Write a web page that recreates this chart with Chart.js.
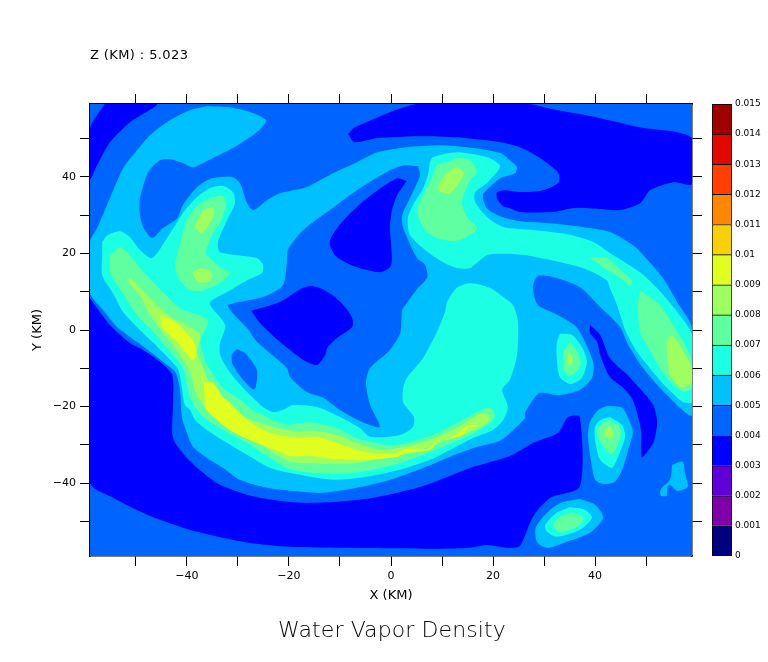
<!DOCTYPE html>
<html>
<head>
<meta charset="utf-8">
<title>Water Vapor Density</title>
<script src="https://cdn.jsdelivr.net/npm/chart.js@4/dist/chart.umd.min.js"></script>
<style>
  body { margin: 0; background: #fff; }
  #wrap { position: relative; width: 768px; height: 662px; overflow: hidden; }
  canvas { position: absolute; top: 0; }
  .label { position: absolute; color: #000; font-family: "DejaVu Sans", sans-serif; white-space: nowrap; }
  #zLabel { left: 90px; top: 47px; font-size: 13px; letter-spacing: 0.4px; }
  #mainTitle { left: 278px; top: 617px; font-size: 22px; font-weight: 200; letter-spacing: 0.1px; }
</style>
</head>
<body>
<div id="wrap">
  <canvas id="contourChart" width="768" height="662" style="left:0"></canvas>
  <canvas id="colourBar" width="56" height="662" style="left:712px"></canvas>
  <div class="label" id="zLabel">Z (KM) : 5.023</div>
  <div class="label" id="mainTitle">Water Vapor Density</div>
</div>
<script>
const levelColours = ['#000080', '#7f00a8', '#6000d8', '#0000ff', '#0064ff', '#00c0ff', '#1cffe2',
  '#60ffa0', '#a0ff60', '#e0ff20', '#f8d008', '#ff8800', '#ff4000', '#e00800', '#a00000'];
const levelLabels = ['0', '0.001', '0.002', '0.003', '0.004', '0.005', '0.006', '0.007',
  '0.008', '0.009', '0.01', '0.011', '0.012', '0.013', '0.014', '0.015'];
const levelEdges = [0, 0.001, 0.002, 0.003, 0.004, 0.005, 0.006, 0.007, 0.008, 0.009, 0.01, 0.011, 0.012, 0.013, 0.014, 0.015];
const xTicks = [-50, -40, -30, -20, -10, 0, 10, 20, 30, 40, 50];
const yTicks = [-50, -40, -30, -20, -10, 0, 10, 20, 30, 40, 50];
const labelledTicks = [-40, -20, 0, 20, 40];

// contours, [x km, y km]
const domain = [[-59,-59],[59,-59],[59,59],[-59,59]];

const dryTopLeft = [[-56.1,59],[-45.9,59],[-51.2,54.2],[-55.1,49],[-57.6,43],[-59,39.4],[-59,52.7]];
const dryTopBand = [[-8.4,51.1],[-7.1,52.9],[5.1,59],[26.9,59],[31.8,57.6],[41,55.3],[48.8,52.9],[59,50.1],
  [59,38.1],[55.3,38.6],[50.8,36.5],[48.8,33.1],[44.9,31.3],[41,31.6],[35.5,31.8],[31.8,30.8],[25.3,30.8],
  [23.3,31.8],[22,32.3],[20.8,34.2],[20.8,36],[22.3,36.5],[25.3,36],[29.8,36.5],[32.9,38.6],[32.7,41.2],
  [29.2,44.9],[25.3,47.7],[21.4,49],[12.9,50.3],[5.1,50.6],[-2.7,50.1],[-7.1,49]];
const dryLower = [[-59,8.3],[-55.1,1.3],[-51.2,-3.4],[-48.6,-5.2],[-45.3,-8.3],[-42.9,-11.7],[-42.7,-18.3],
  [-42.9,-26.9],[-42.3,-29.5],[-40,-33.4],[-36.8,-37.3],[-33.5,-40.4],[-28.2,-43],[-24.3,-44.1],[-17.8,-45.1],
  [-11.4,-44.9],[-3.5,-43.8],[6.3,-40.7],[15.5,-36],[23.3,-32.9],[27.8,-29.5],[32.7,-26.9],[34.7,-22.7],
  [37,-22.7],[37,-40.9],[31.2,-43.8],[27.8,-48.8],[25.3,-56.3],[23.3,-56.9],[18.8,-56.1],[14.9,-56.9],
  [6.3,-57.1],[-19.8,-56.6],[-28.2,-55.5],[-38,-52.7],[-47.8,-48.2],[-54.5,-43.8],[-59,-39.9]];
const dryDiagonal = [[39,1.3],[41,-1.3],[42.9,-7.3],[46.3,-11.7],[49.4,-16.2],[51.4,-19.6],[52.1,-23],[52.1,-25.3],
  [51.4,-29.5],[49.2,-33.1],[49,-26.1],[47.4,-18.3],[45.5,-15.1],[42.9,-12.3],[41,-6.5],[40.4,-3.1],[39,-0.8]];

const swirl5 = [[-36.1,58.4],[-32.1,58.2],[-27.6,56.9],[-24.5,54.8],[-25.3,52.9],[-27,50.9],[-31,47.5],[-34.9,44.9],
  [-38.8,42.5],[-40.8,43.6],[-43.3,44.6],[-45.3,44.3],[-47.6,41.2],[-49.2,34.4],[-49.2,30],[-48.6,26.9],[-46.8,24],
  [-44.7,26.6],[-41.9,29.2],[-40.8,32.6],[-38,37.3],[-35.1,39.6],[-31,39.9],[-29.6,38.3],[-28.2,33.1],[-27,31.3],
  [-24.3,33.9],[-21.8,35.7],[-19.8,36.3],[-16.5,37.3],[-11.4,40.9],[-6.7,43.8],[-2.7,46.4],[3.1,47.7],[9.6,48.2],
  [16.1,47.5],[21.4,46.2],[23.3,44.3],[24.7,42.5],[24.3,40.9],[21.4,39.6],[19.4,37.3],[18,35.2],[18.8,31.8],
  [21.4,29.7],[25.3,28.4],[31.2,27.9],[37.6,26.9],[42.9,25.6],[47.4,22.2],[49.4,19.6],[53.3,13.6],[56.1,7.3],
  [59,0.5],[59,-22.2],[54.1,-17],[49.4,-9.9],[46.5,-3.9],[44.9,0.8],[41,6],[37,11.2],[32.5,13.6],[28.8,14.1],
  [27.8,11],[28.8,6.5],[32.7,3.9],[36.5,0.5],[39.6,-8.3],[39.4,-12.5],[37,-15.6],[33.1,-17],[29.2,-16.4],
  [27.8,-18.3],[26.3,-21.6],[26.3,-23],[23.3,-26.9],[21.4,-28.9],[16.9,-30.5],[11.6,-33.1],[6.3,-36],[-0.2,-39.1],
  [-6.7,-41.2],[-13.3,-42.5],[-17.8,-42.2],[-24.3,-41.2],[-29.6,-39.1],[-32.9,-36],[-36.1,-33.4],[-38.8,-30.5],
  [-40,-26.9],[-41,-22.7],[-41.4,-15.1],[-42.3,-11],[-44.7,-8.3],[-47.2,-5.7],[-49.8,-3.1],[-53.7,0.8],[-56.4,5.2],
  [-59,9.6],[-59,23],[-57.6,26.6],[-55.1,34.4],[-52.5,42.2],[-49.8,46.9],[-47.2,50.9],[-43.3,54.8],[-39.4,57.4]];
const spotA5 = [[42.5,-19.8],[45.3,-20.3],[46.5,-23],[47.4,-26.6],[46.5,-31.3],[45.3,-36.5],[43.9,-39.6],[41.6,-40.2],
  [40,-39.1],[39.4,-35.7],[38.6,-27.9],[39,-24],[40.6,-20.9]];
const spotB5 = [[37,-44.1],[40,-45.6],[41.6,-49],[39,-52.9],[34.5,-55.3],[30.6,-56.9],[28.6,-55.3],[28.4,-51.4],[31.2,-46.9],[33.7,-44.9]];
const spotC5 = [[55.1,-35.2],[57.2,-34.4],[57.6,-37.3],[58.2,-40.9],[56.1,-42],[54.7,-40.4],[54.1,-41.2],[54.1,-43.3],
  [52.9,-43.3],[52.9,-41.5],[54.7,-39.1]];

const hollowCentre = [[5.3,42.8],[5.7,40.4],[3.7,34.4],[2.2,30],[2.4,26.6],[5.1,18.8],[6.7,17],[7.1,13.8],[5.3,11],[3.1,7],
  [2.2,5.2],[1.8,-0.8],[-0.2,-5.2],[-4.1,-9.9],[-4.9,-13.8],[-4.1,-19.6],[-2.2,-25.3],[-5.7,-24],[-10,-20.9],
  [-13.3,-17.7],[-16.5,-16.2],[-19.8,-12.3],[-20.4,-9.9],[-26.3,-3.1],[-28.2,0.5],[-31,4.4],[-31.9,6.5],[-25.1,8.6],
  [-21.2,11.7],[-20.4,17.7],[-20.2,20.9],[-17.8,25.3],[-16.5,26.9],[-12,31.3],[-6.7,36.5],[-0.2,41.7],[2.7,43]];
const hollowSmall = [[-30.2,-5],[-28.6,-6],[-26.3,-10.4],[-26.5,-14.9],[-27,-15.6],[-29,-13],[-31,-9.1],[-31.2,-6.5]];
const dryCentreTop = [[3.1,38.9],[1.2,39.6],[-3.1,36],[-6.7,32.1],[-10,27.6],[-11.8,24],[-12,22.2],[-11,19.6],[-9,17.7],
  [-6.7,16.4],[-2.2,15.1],[-0.2,16.4],[0.2,18.8],[-0.2,26.6],[0.2,31.3],[1.2,35.2]];
const dryCentreLeft = [[-27.4,5],[-21.8,7.3],[-16.9,11.2],[-14.5,11.2],[-11.4,9.1],[-9,6],[-7.6,3.1],[-7.6,0.8],[-10.6,-2.1],
  [-12.5,-4.7],[-12.9,-6.5],[-14.5,-9.1],[-17.2,-7.8],[-21.8,-3.1],[-25.7,1.8]];

const band6 = [[-56.6,23],[-55.5,24.8],[-53.1,25.8],[-51.2,24.3],[-49.2,20.9],[-46.8,18.8],[-43.9,24],[-40.8,30.5],[-38,34.7],
  [-35.5,37],[-32.9,37.6],[-31,36],[-30.6,33.1],[-32.1,28.7],[-33.9,23],[-33.5,20.3],[-26.3,18.8],[-25.1,17],[-25.3,14.9],
  [-28.2,13],[-32.1,9.9],[-35.5,7],[-32.5,1.3],[-33.5,-3.4],[-33.5,-6.5],[-31.6,-11],[-28.2,-16.2],[-25.1,-20.1],
  [-23.1,-21.4],[-21.2,-20.9],[-19.2,-19.6],[-14.5,-20.1],[-10,-22.7],[-6.1,-25.6],[-4.1,-27.9],[1.8,-27.4],[4.3,-25.3],
  [4.5,-22.7],[2.4,-19],[2.4,-15.1],[3.1,-12.5],[6.3,-7.3],[9,-0.5],[10.6,4.7],[11,7.3],[12.9,11],[15.5,12.3],[19.4,11],
  [22,8.6],[23.9,6.5],[24.9,2.1],[24.7,-6.5],[23.3,-13],[21.8,-15.6],[22.9,-20.1],[22,-23.5],[20,-26.1],[16.1,-28.2],
  [11.6,-31.3],[7.6,-33.9],[1.8,-36.5],[-4.7,-38.3],[-11.4,-39.1],[-17.8,-37.8],[-23.7,-36],[-28.2,-32.6],[-32.1,-29.5],
  [-36.1,-26.1],[-38.4,-23.5],[-39.4,-20.9],[-40.4,-19.6],[-41,-15.1],[-41.7,-10.4],[-43.9,-7],[-46.8,-3.1],[-49.8,0.8],
  [-52.5,4.7],[-54.5,9.6],[-56.6,14.3],[-56.6,19.6]];
const swirl6 = [[7.6,43.8],[8.2,45.1],[12.9,46.4],[18.8,45.1],[21.4,42.8],[19,38.6],[16.5,36],[16.5,33.4],[18.8,29.5],[22,26.9],
  [27.8,26.1],[34.5,25],[39.6,23],[43.5,19.6],[48.8,15.1],[52.1,11],[56.1,4.7],[59,-1.3],[59,-18.8],[57.2,-18.8],[54.1,-15.1],
  [51.4,-11],[48.2,-5.7],[45.9,0],[44.3,6.5],[42.9,11],[42.3,13],[37.6,16.2],[31.2,18.3],[25.9,19.6],[19,19.6],[15.5,16.2],
  [12.9,16.2],[10.2,17.7],[6.7,20.9],[3.7,24.8],[3.3,29.2],[4.3,32.6],[6.3,37],[7.3,40.9]];
const spotD6 = [[33.1,-1],[35.5,-1.3],[37.4,-4.4],[38.4,-8.3],[37.4,-12.5],[35.1,-14.1],[33.1,-12.3],[32.5,-7.3],[32.5,-3.4]];
const spotA6 = [[42.9,-22.7],[45.3,-24.8],[45.9,-27.9],[44.5,-33.1],[43.3,-36],[41,-33.9],[40,-28.7],[40,-25.3],[41,-23.5]];
const spotB6 = [[35.1,-46.2],[38,-46.9],[39.4,-49],[37,-52.2],[32.5,-54],[30.6,-52.7],[30.2,-50.9],[32.5,-47.7]];

const band7 = [[-55.1,19.6],[-53.1,21.6],[-51.7,20.3],[-51.2,19.6],[-48.8,15.6],[-44.7,9.9],[-41.4,5.7],[-35.9,2.6],[-37.4,-3.1],
  [-36.8,-6.5],[-35.5,-10.4],[-32.9,-15.1],[-29,-18.8],[-27,-20.9],[-23.1,-23.5],[-20.4,-24.8],[-17.8,-24.3],[-15.9,-24],
  [-10.6,-25.6],[-6.7,-28.2],[-0.8,-30],[3.1,-29.5],[8.2,-27.4],[12.9,-24.3],[16.9,-21.4],[19.4,-20.3],[20.4,-22.2],[19.4,-24.3],
  [15.5,-27.4],[11,-30],[6.3,-32.6],[1.8,-34.7],[-4.7,-36.8],[-11.4,-37.6],[-19.8,-36.5],[-23.1,-33.9],[-28.2,-29.5],[-32.9,-26.1],
  [-36.8,-22.7],[-38.4,-20.1],[-39.4,-17.7],[-40.8,-9.9],[-43.3,-5.7],[-46.6,-0.5],[-49.8,3.9],[-52.7,9.9],[-55.1,15.1]];
const swirl7 = [[11,43.8],[12.9,44.9],[15.5,44.3],[16.9,41.2],[15.5,39.1],[13.9,33.4],[14.9,29.5],[16.9,26.6],[14.9,24.3],[12.2,23.2],
  [9,24],[6.7,26.1],[5.1,30.8],[6.3,35.2],[8.2,40.4],[9,43]];
const streak7 = [[39,18.8],[42.3,18.8],[45.5,15.1],[47.2,13],[47,11.5],[44.9,13.6],[41.6,16.4]];
const edge7 = [[48.8,10.4],[52.7,6.5],[55.3,1.3],[58,-4.7],[59,-8.3],[59,-15.1],[57.6,-16.2],[55.3,-14.3],[52.7,-9.9],[50.2,-3.9],[48.8,-0.5],[48.4,6.5]];
const arm7 = [[-35.1,34.7],[-33.1,34.9],[-32.3,33.4],[-33.1,29.2],[-35.1,24.8],[-36.3,20.3],[-36.1,19.6],[-33.5,16.4],[-31.6,14.9],
  [-33.5,12.3],[-36.8,10.4],[-39.4,10.4],[-41.7,13.6],[-42.3,17],[-41.7,20.9],[-40,28.7],[-37.8,32.6]];
const spotD7 = [[35.1,-3.1],[36.7,-6],[37.2,-9.1],[36.1,-11.2],[34.7,-12],[33.7,-9.6],[33.9,-5.7]];
const spotA7 = [[42.9,-23.5],[44.9,-25.3],[44.9,-28.2],[43.3,-32.6],[41,-29.2],[40.4,-26.1],[41.4,-24.3]];
const spotB7 = [[35.5,-47.7],[37.6,-48.8],[37,-50.9],[33.1,-52.9],[31.8,-50.9],[33.1,-48.8]];

const band8 = [[-51.2,13.8],[-47.2,8.3],[-43.7,3.9],[-39.4,0.8],[-37.4,-1.3],[-38,-5.7],[-36.8,-9.9],[-35.1,-15.1],[-31.6,-19.6],
  [-28.2,-23],[-22.3,-25.6],[-17.8,-26.6],[-16.5,-26.3],[-12,-26.9],[-6.7,-29.5],[-1.6,-31.3],[2.4,-30.5],[7.6,-28.7],[12.9,-25.6],
  [17.4,-21.9],[19.4,-22.2],[18.8,-24.3],[14.9,-26.9],[9,-29.7],[4.3,-32.1],[-0.2,-33.1],[-6.7,-34.7],[-13.3,-34.9],[-19.8,-34.4],
  [-21.8,-33.1],[-27,-28.7],[-32.9,-24.3],[-35.9,-21.6],[-37.4,-18.3],[-38,-17.7],[-39.4,-11],[-41.7,-5.7],[-43.9,-2.1],[-47.2,3.9],
  [-49.2,9.1],[-51.5,12.5]];
const swirl8 = [[11,41.2],[12.9,42.5],[14.3,40.9],[11.6,35.7],[9,36.8]];
const edge8 = [[55.1,-1.3],[56.6,-3.9],[59,-9.9],[59,-13.6],[57,-15.1],[54.7,-11.7],[54.1,-6.5],[54.1,-2.6]];
const armTop8 = [[-36.8,31.3],[-34.9,32.1],[-34.7,30],[-37,25.3],[-38.4,26.9]];
const armLow8 = [[-39,15.1],[-37,16.2],[-35.1,14.9],[-35.5,12.8],[-37.8,12.5]];
const spotD8 = [[34.9,-5.2],[35.5,-7],[35.5,-9.1],[34.7,-9.4],[34.7,-6.5]];
const spotA8 = [[42.9,-25],[43.7,-26.6],[43.3,-28.4],[42.1,-27.9],[41.7,-26.6]];

const coreUpper9 = [[-45.3,3.9],[-42.3,2.1],[-39.4,-1.8],[-38.4,-3.9],[-38.2,-7],[-39,-7.8],[-41.9,-3.1],[-44.7,0.5]];
const coreLower9 = [[-37,-11],[-36.8,-13.6],[-34.9,-13.8],[-32.9,-17.7],[-32.1,-18.3],[-28.2,-23.5],[-23.7,-26.9],[-17.8,-28.2],
  [-14.5,-27.9],[-11.4,-29.2],[-6.7,-31.3],[-2.7,-32.3],[1.2,-32.1],[2.7,-31],[7.1,-31],[9,-29.2],[7.6,-31.3],[2.4,-32.1],[1.4,-33.1],
  [-4.7,-33.9],[-11.4,-33.6],[-15.9,-32.9],[-19.8,-32.9],[-21.8,-31.8],[-26.3,-29.5],[-31.6,-26.1],[-36.1,-20.9],[-36.5,-18.3],[-36.7,-14.3]];
const coreTip9 = [[11,-28.9],[13.5,-26.6],[15.1,-25],[17.1,-25],[15.1,-25.6],[14.1,-27.4],[12.2,-28.2]];

// paint order: later ones cover earlier ones
const layers = [
  [4, domain],
  [3, dryTopLeft], [3, dryTopBand], [3, dryLower], [3, dryDiagonal],
  [5, swirl5], [5, spotA5], [5, spotB5], [5, spotC5],
  [4, hollowCentre], [4, hollowSmall],
  [3, dryCentreTop], [3, dryCentreLeft],
  [6, band6], [6, swirl6], [6, spotD6], [6, spotA6], [6, spotB6],
  [7, band7], [7, swirl7], [7, streak7], [7, edge7], [7, arm7], [7, spotD7], [7, spotA7], [7, spotB7],
  [8, band8], [8, swirl8], [8, edge8], [8, armTop8], [8, armLow8], [8, spotD8], [8, spotA8],
  [9, coreUpper9], [9, coreLower9], [9, coreTip9]
];

const black = '#000';
const tickFont = { family: '"DejaVu Sans", sans-serif', size: 11 };
const axisTitleFont = { family: '"DejaVu Sans", sans-serif', size: 13 };

function tickLabel(value) {
  if (!labelledTicks.includes(value)) return '';
  return value < 0 ? '\u2212' + Math.abs(value) : String(value);
}

function kmAxis(axis, position, size, ticks, showLabels, title) {
  return {
    type: 'linear',
    axis: axis,
    position: position,
    min: -59,
    max: 59,
    afterBuildTicks: scale => { scale.ticks = ticks.map(v => ({ value: v })); },
    afterFit: scale => {
      if (axis === 'x') scale.height = size; else scale.width = size;
    },
    grid: { drawOnChartArea: false, drawTicks: true, tickLength: 10, color: black, lineWidth: 1 },
    border: { display: true, color: black, width: 1.5 },
    ticks: {
      display: showLabels,
      autoSkip: false,
      maxRotation: 0,
      color: black,
      font: tickFont,
      padding: 4,
      callback: tickLabel
    },
    title: title
  };
}

new Chart(document.getElementById('contourChart'), {
  type: 'scatter',
  data: {
    datasets: layers.map(([level, shape], i) => ({
      label: 'level ' + levelLabels[level],
      data: shape.concat([shape[0]]).map(p => ({ x: p[0], y: p[1] })),
      showLine: true,
      fill: 'shape',
      backgroundColor: levelColours[level],
      borderColor: levelColours[level],
      borderWidth: 0,
      pointRadius: 0,
      pointHoverRadius: 0,
      tension: shape === domain ? 0 : 0.25,
      order: layers.length - i
    }))
  },
  options: {
    responsive: false,
    animation: false,
    events: [],
    layout: { padding: 0 },
    plugins: { legend: { display: false }, tooltip: { enabled: false } },
    scales: {
      x: kmAxis('x', 'bottom', 106, xTicks, true,
        { display: true, text: 'X (KM)', color: black, font: axisTitleFont, padding: { top: 0, bottom: 59 } }),
      y: kmAxis('y', 'left', 90, yTicks, true,
        { display: true, text: 'Y (KM)', color: black, font: axisTitleFont, padding: { top: 30, bottom: 0 } }),
      x2: kmAxis('x', 'top', 104, xTicks, false, { display: false }),
      y2: kmAxis('y', 'right', 76, yTicks, false, { display: false })
    }
  }
});

new Chart(document.getElementById('colourBar'), {
  type: 'bar',
  data: {
    labels: ['density'],
    datasets: levelColours.map((colour, i) => ({
      label: levelLabels[i],
      data: [levelEdges[i + 1] - levelEdges[i]],
      backgroundColor: colour,
      borderColor: black,
      borderWidth: 1,
      barPercentage: 1,
      categoryPercentage: 1
    }))
  },
  options: {
    responsive: false,
    animation: false,
    events: [],
    layout: { padding: { top: 104, bottom: 106, left: 0, right: 0 } },
    plugins: { legend: { display: false }, tooltip: { enabled: false } },
    scales: {
      x: { stacked: true, display: false },
      y: {
        stacked: true,
        position: 'right',
        min: 0,
        max: 0.015,
        afterBuildTicks: scale => { scale.ticks = levelEdges.map(v => ({ value: v })); },
        afterFit: scale => { scale.width = 36; },
        grid: { display: false, drawTicks: false },
        border: { display: false },
        ticks: {
          autoSkip: false,
          color: black,
          padding: 3,
          font: { family: '"DejaVu Sans", sans-serif', size: 9 },
          callback: (value, i) => levelLabels[i]
        }
      }
    }
  }
});
</script>
</body>
</html>
